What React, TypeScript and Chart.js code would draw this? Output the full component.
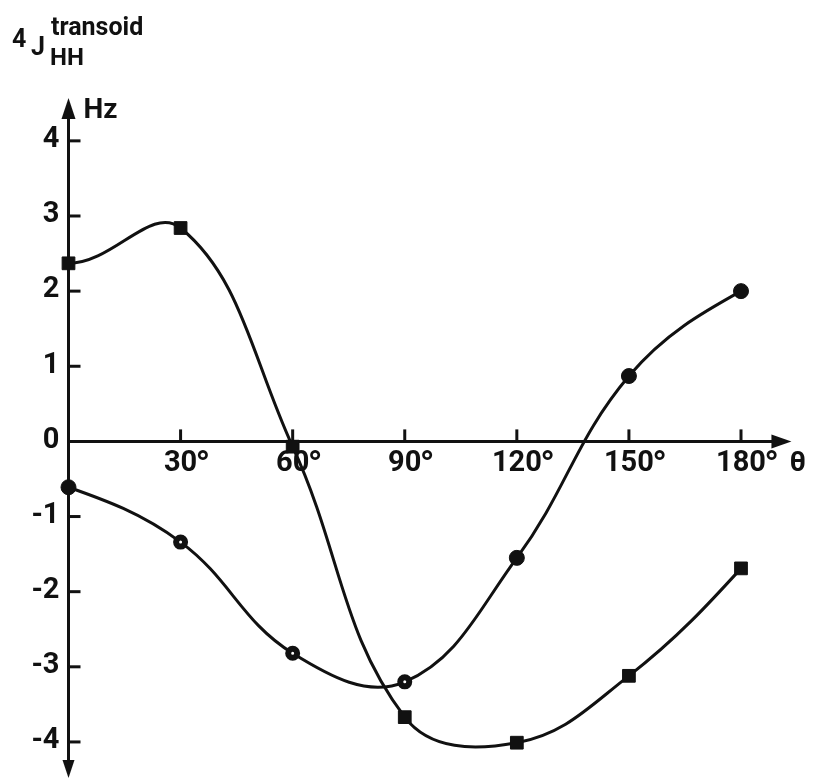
import React, { useEffect, useRef } from "react";
import { Chart, registerables } from "chart.js";

Chart.register(...registerables);

// Dihedral angle θ (degrees) and the two coupling curves (Hz)
const angles = [0, 30, 60, 90, 120, 150, 180];
const squareSeries = [2.37, 2.84, -0.07, -3.67, -4.01, -3.12, -1.69];
const circleSeries = [-0.61, -1.34, -2.82, -3.2, -1.55, 0.87, 2.0];
// circle markers drawn as rings with a light centre
const ringAngles = [30, 60, 90];

const yTickValues = [4, 3, 2, 1, 0, -1, -2, -3, -4];
const xTickValues = [30, 60, 90, 120, 150, 180];

// extent of the arrowed axes, in data units
const yAxisReach = { low: -4.48, high: 4.57 };
const xAxisReach = 193.5;

const INK = "#111111";
const FONT = 'Roboto, "Liberation Sans", Arial, sans-serif';
const WEIGHT = "bold";

// Shape of the spline at its two ends: "flat" (horizontal tangent),
// "natural" (no curvature at the end) or left as Chart.js computes it.
const splineEndsPlugin = {
  id: "splineEnds",
  beforeDatasetDraw(chart: any, args: any) {
    const meta = args.meta;
    const ends = chart.data.datasets[args.index].splineEnds;
    if (!ends || !meta.dataset) return;
    meta.dataset.updateControlPoints(chart.chartArea, meta.iScale.axis);
    const pts = meta.data;
    const n = pts.length;
    if (n < 3) return;
    const first = pts[0];
    const second = pts[1];
    if (ends.start === "flat") {
      first.cp2x = first.x + (second.x - first.x) * 0.4;
      first.cp2y = first.y;
    } else if (ends.start === "natural") {
      first.cp2x = (first.x + second.cp1x) / 2;
      first.cp2y = (first.y + second.cp1y) / 2;
    }
    const last = pts[n - 1];
    const prev = pts[n - 2];
    if (ends.end === "flat") {
      last.cp1x = last.x - (last.x - prev.x) * 0.4;
      last.cp1y = last.y;
    } else if (ends.end === "natural") {
      last.cp1x = (last.x + prev.cp2x) / 2;
      last.cp1y = (last.y + prev.cp2y) / 2;
    }
  },
};

const crossAxesPlugin = {
  id: "crossAxes",
  beforeDatasetsDraw(chart: any) {
    const { ctx, scales } = chart;
    const xs = scales.x;
    const ys = scales.y;
    const x0 = xs.getPixelForValue(0);
    const y0 = ys.getPixelForValue(0);

    ctx.save();
    ctx.strokeStyle = INK;
    ctx.fillStyle = INK;
    ctx.lineWidth = 3;
    ctx.lineCap = "butt";

    // vertical axis with arrowheads at both ends
    const yTop = ys.getPixelForValue(yAxisReach.high);
    const yBot = ys.getPixelForValue(yAxisReach.low);
    ctx.beginPath();
    ctx.moveTo(x0, yTop + 10);
    ctx.lineTo(x0, yBot - 10);
    ctx.stroke();
    ctx.beginPath();
    ctx.moveTo(x0, yTop);
    ctx.lineTo(x0 - 7, yTop + 21);
    ctx.lineTo(x0 + 7, yTop + 21);
    ctx.closePath();
    ctx.fill();
    ctx.beginPath();
    ctx.moveTo(x0, yBot);
    ctx.lineTo(x0 - 6, yBot - 18);
    ctx.lineTo(x0 + 6, yBot - 18);
    ctx.closePath();
    ctx.fill();

    // horizontal axis with arrowhead
    const xEnd = xs.getPixelForValue(xAxisReach);
    ctx.beginPath();
    ctx.moveTo(x0, y0);
    ctx.lineTo(xEnd - 10, y0);
    ctx.stroke();
    ctx.beginPath();
    ctx.moveTo(xEnd, y0);
    ctx.lineTo(xEnd - 20, y0 - 7);
    ctx.lineTo(xEnd - 20, y0 + 7);
    ctx.closePath();
    ctx.fill();

    // y ticks and labels
    ctx.font = `${WEIGHT} 29px ${FONT}`;
    ctx.textAlign = "right";
    ctx.textBaseline = "middle";
    yTickValues.forEach((v) => {
      const py = ys.getPixelForValue(v);
      if (v !== 0) {
        ctx.beginPath();
        ctx.moveTo(x0, py);
        ctx.lineTo(x0 + 12, py);
        ctx.stroke();
      }
      ctx.fillText(String(v), x0 - 9, py - 1);
    });

    // x ticks and labels (digits centred on the tick, degree sign after)
    ctx.textAlign = "left";
    ctx.textBaseline = "alphabetic";
    const labelBase = y0 + 30;
    xTickValues.forEach((v) => {
      const px = xs.getPixelForValue(v);
      ctx.beginPath();
      ctx.moveTo(px, y0);
      ctx.lineTo(px, y0 - 12);
      ctx.stroke();
      ctx.font = `${WEIGHT} 29px ${FONT}`;
      const digits = String(v);
      const m = ctx.measureText(digits);
      const left = px - m.width / 2;
      ctx.fillText(digits, left, labelBase);
      const digitTop = labelBase - m.actualBoundingBoxAscent;
      const inkRight = left + m.actualBoundingBoxRight;
      ctx.font = `${WEIGHT} 38px ${FONT}`;
      const dm = ctx.measureText("°");
      ctx.fillText("°", inkRight + 1 + dm.actualBoundingBoxLeft, digitTop + dm.actualBoundingBoxAscent);
    });

    // axis names
    ctx.font = `${WEIGHT} 28px ${FONT}`;
    ctx.fillText("Hz", x0 + 15, yTop + 20);
    ctx.font = `${WEIGHT} 28px ${FONT}`;
    ctx.fillText("θ", xEnd - 2, labelBase);

    // quantity name: ⁴J with super/subscripts
    ctx.font = `${WEIGHT} 25px ${FONT}`;
    ctx.fillText("4", 12, 47);
    ctx.fillText("J", 31, 55);
    ctx.fillText("transoid", 51, 35);
    ctx.font = `${WEIGHT} 24px ${FONT}`;
    ctx.fillText("HH", 50, 65);

    ctx.restore();
  },
};

export default function App() {
  const canvasRef = useRef<HTMLCanvasElement | null>(null);

  useEffect(() => {
    const canvas = canvasRef.current;
    if (!canvas) return;

    const ringRadius = angles.map((a) => (ringAngles.includes(a) ? 4.5 : 7.5));
    const ringBorder = angles.map((a) => (ringAngles.includes(a) ? 6 : 1));
    const ringFill = angles.map((a) => (ringAngles.includes(a) ? "#ffffff" : INK));

    const chart = new Chart(canvas, {
      type: "line",
      data: {
        datasets: [
          {
            label: "squares",
            data: angles.map((a, i) => ({ x: a, y: squareSeries[i] })),
            borderColor: INK,
            borderWidth: 3,
            tension: 0.4,
            pointStyle: "rect",
            pointRadius: 9,
            pointBackgroundColor: INK,
            pointBorderColor: INK,
            pointBorderWidth: 1,
            clip: false,
            splineEnds: { start: "flat", end: "natural" },
          } as any,
          {
            label: "circles",
            data: angles.map((a, i) => ({ x: a, y: circleSeries[i] })),
            borderColor: INK,
            borderWidth: 3,
            tension: 0.4,
            pointStyle: "circle",
            pointRadius: ringRadius,
            pointBackgroundColor: ringFill,
            pointBorderColor: INK,
            pointBorderWidth: ringBorder,
            clip: false,
            splineEnds: { start: "natural", end: "natural" },
          } as any,
        ],
      },
      options: {
        animation: false,
        responsive: false,
        devicePixelRatio: 1,
        layout: { padding: { left: 68.5, right: 74, top: 110.8, bottom: 6.8 } },
        scales: {
          x: { type: "linear", min: 0, max: 180, display: false },
          y: { type: "linear", min: -4.4, max: 4.4, display: false },
        },
        plugins: {
          legend: { display: false },
          tooltip: { enabled: false },
        },
        events: [],
      },
      plugins: [crossAxesPlugin, splineEndsPlugin],
    });

    return () => chart.destroy();
  }, []);

  return (
    <div style={{ position: "fixed", left: 0, top: 0, width: 815, height: 782, background: "#ffffff" }}>
      <canvas ref={canvasRef} width={815} height={782} />
    </div>
  );
}
